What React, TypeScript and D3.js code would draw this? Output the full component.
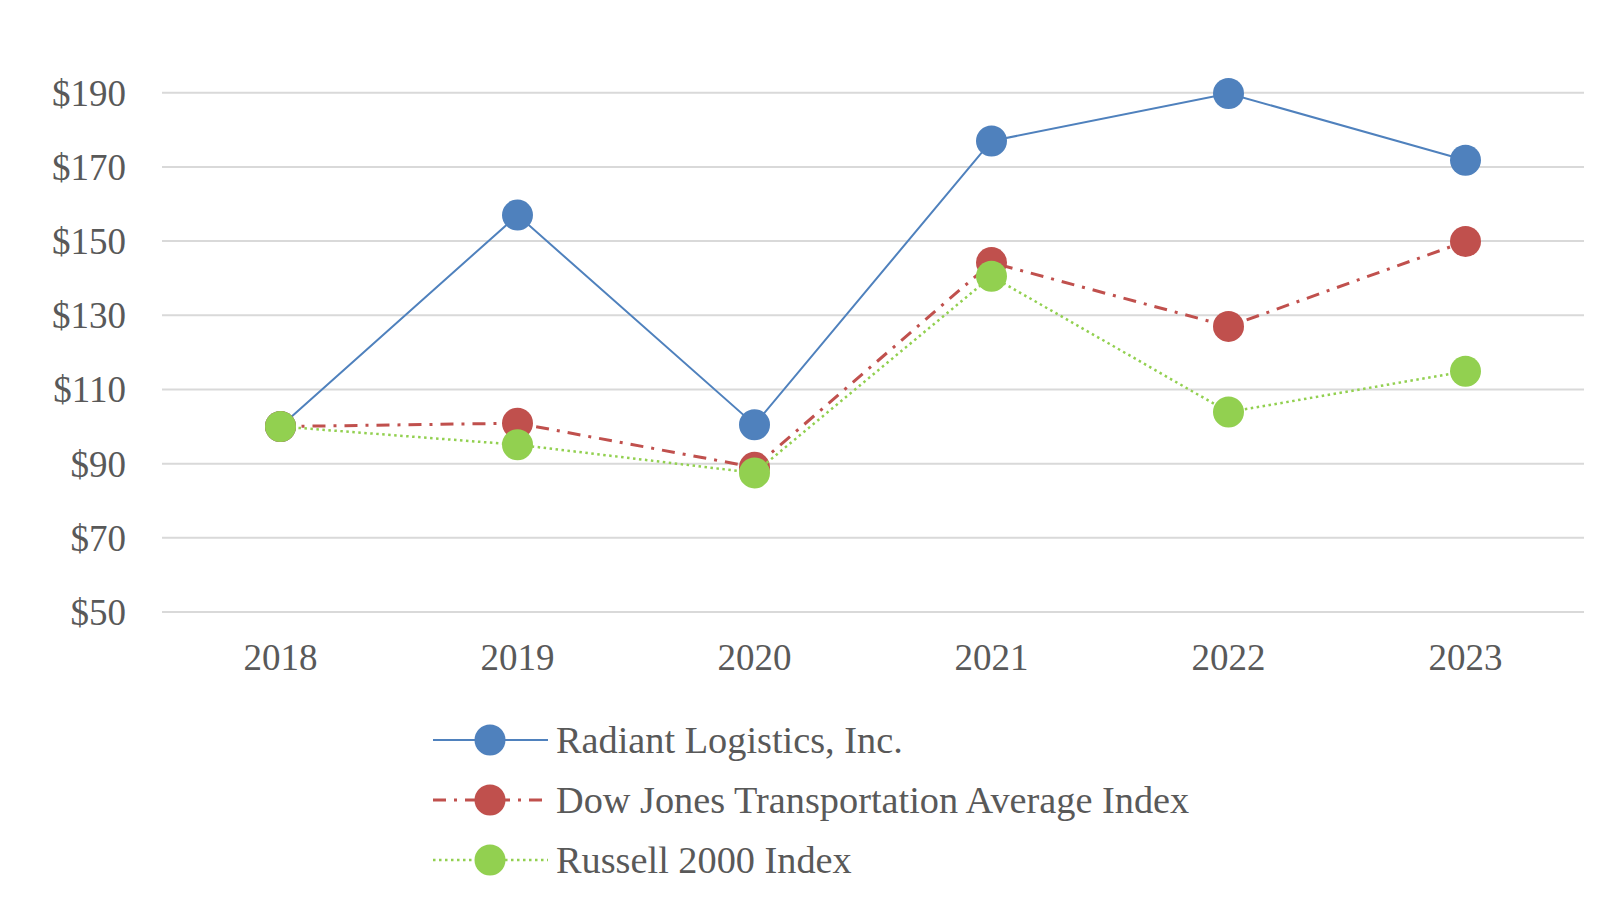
import { useMemo } from 'react';
import * as d3 from 'd3';

const years = ['2018', '2019', '2020', '2021', '2022', '2023'];
const radiant = [100, 157, 100.5, 177, 189.8, 171.8];
const dowJones = [100, 100.9, 89, 144.2, 127, 149.9];
const russell = [100, 95.1, 87.5, 140.5, 103.9, 114.9];
const yTickValues = [50, 70, 90, 110, 130, 150, 170, 190];

interface Series {
  name: string;
  values: number[];
  color: string;
  width: number;
  dash?: string;
}

const series: Series[] = [
  { name: 'Radiant Logistics, Inc.', values: radiant, color: '#4F81BD', width: 2 },
  { name: 'Dow Jones Transportation Average Index', values: dowJones, color: '#C0504D', width: 3, dash: '13,8,3,8' },
  { name: 'Russell 2000 Index', values: russell, color: '#92D050', width: 2.5, dash: '2.5,3.5' },
];

const W = 1616;
const H = 922;
const FONT = '"Liberation Serif", "Times New Roman", serif';
const TEXT = '#595959';

const App = () => {
  const xScale = useMemo(() => d3.scaleBand<string>().domain(years).range([162, 1584]), []);
  const yScale = useMemo(() => d3.scaleLinear().domain([50, 190]).range([612, 92.7]), []);
  const cx = (y: string) => (xScale(y) ?? 0) + xScale.bandwidth() / 2;

  const lineGen = d3.line<number>()
    .x((_, i) => cx(years[i]))
    .y(d => yScale(d));

  return (
    <svg width={W} height={H} style={{ position: 'fixed', top: 0, left: 0, background: '#fff' }}>
      <rect width={W} height={H} fill="#fff" />

      {/* gridlines + y labels */}
      {yTickValues.map(v => (
        <g key={v} transform={`translate(0, ${yScale(v)})`}>
          <line x1={162} x2={1584} stroke="#D9D9D9" strokeWidth={2} />
          <text x={126} dy="0.35em" textAnchor="end" fontFamily={FONT} fontSize={37} fill={TEXT}>
            ${v}
          </text>
        </g>
      ))}

      {/* x labels */}
      {years.map(y => (
        <text key={y} x={cx(y)} y={670} textAnchor="middle" fontFamily={FONT} fontSize={37} fill={TEXT}>
          {y}
        </text>
      ))}

      {/* series */}
      {series.map(s => (
        <g key={s.name}>
          <path d={lineGen(s.values) || undefined} fill="none" stroke={s.color}
            strokeWidth={s.width} strokeDasharray={s.dash} />
          {s.values.map((v, i) => (
            <circle key={i} cx={cx(years[i])} cy={yScale(v)} r={15.5} fill={s.color} />
          ))}
        </g>
      ))}

      {/* legend */}
      {series.map((s, i) => {
        const ly = 740 + i * 60;
        return (
          <g key={s.name} transform={`translate(0, ${ly})`}>
            <line x1={433} x2={548} stroke={s.color} strokeWidth={s.width} strokeDasharray={s.dash} />
            <circle cx={490} cy={0} r={15.5} fill={s.color} />
            <text x={556} dy="0.35em" fontFamily={FONT} fontSize={38.3} fill={TEXT}>
              {s.name}
            </text>
          </g>
        );
      })}
    </svg>
  );
};

export default App;
